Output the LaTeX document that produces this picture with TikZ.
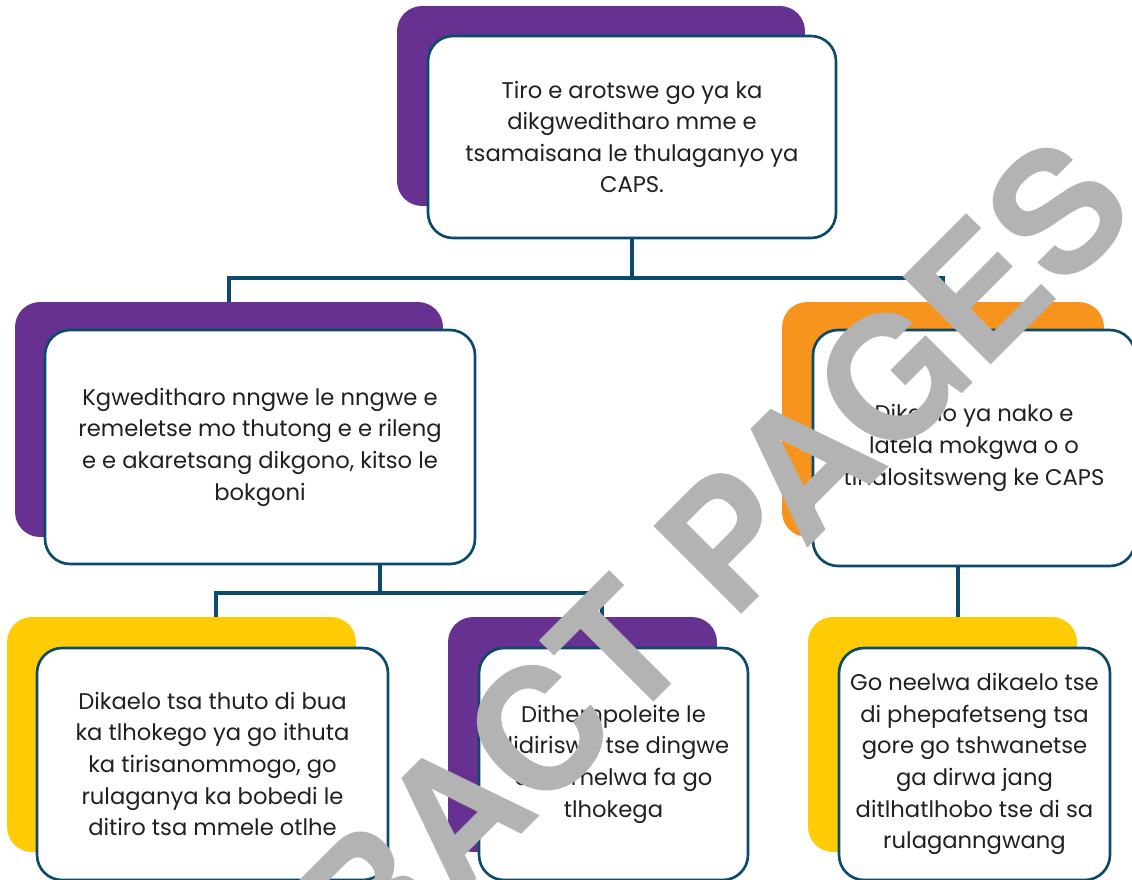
\documentclass[tikz,border=0pt]{standalone}
\usepackage{fontspec}
\setmainfont{Poppins}
\newfontfamily\wmfont{TeX Gyre Heros}
\definecolor{tpurple}{HTML}{663190}
\definecolor{torange}{HTML}{F7941E}
\definecolor{tyellow}{HTML}{FFCB05}
\definecolor{tblue}{HTML}{0B4A6C}
\definecolor{ttext}{HTML}{231F20}
\definecolor{wmgray}{HTML}{B3B3B3}
\begin{document}
\begin{tikzpicture}[x=0.02cm, y=-0.02cm,
                bx/.style={draw=tblue, line width=1.5pt, fill=white, rounded corners=0.5cm, align=center, text=ttext, font=\fontsize{12.9}{18}\selectfont},
                bg/.style={rounded corners=0.5cm},
                ln/.style={draw=tblue, line width=1.9pt},
                wm/.style={text=wmgray, font=\wmfont\bfseries\fontsize{97}{97}\selectfont}
            ]
            \useasboundingbox (0,0) rectangle (1132,879);
            \clip (0,0) rectangle (1132,879);
            % back plates
            \node[bg, fill=tpurple, minimum width=8.16cm, minimum height=4cm]  (tiroBg)   at (601,106)   {};
            \node[bg, fill=tpurple, minimum width=8.56cm, minimum height=4.7cm] (kgweBg)  at (229,419.5) {};
            \node[bg, fill=torange, minimum width=6.44cm, minimum height=4.7cm] (nakoBg)  at (943,419.5) {};
            \node[bg, fill=tyellow, minimum width=6.98cm, minimum height=4.7cm] (thutoBg) at (181.5,734.5) {};
            \node[bg, fill=tpurple, minimum width=5.38cm, minimum height=4.7cm] (thempoBg) at (582.5,734.5) {};
            \node[bg, fill=tyellow, minimum width=5.38cm, minimum height=4.7cm] (neelwaBg) at (942.5,734.5) {};
            % boxes
            \node[bx, minimum width=8.16cm, minimum height=4.04cm] (tiro)   at (632,137)   {Tiro e arotswe go ya ka\\dikgweditharo mme e\\tsamaisana le thulaganyo ya\\CAPS.};
            \node[bx, minimum width=8.6cm,  minimum height=4.68cm] (kgwe)   at (260,447)   {Kgweditharo nngwe le nngwe e\\remeletse mo thutong e e rileng\\e e akaretsang dikgono, kitso le\\bokgoni};
            \node[bx, minimum width=6.44cm, minimum height=4.72cm] (nako)   at (974,448)   {Dikaelo ya nako e\\latela mokgwa o o\\tlhalositsweng ke CAPS};
            \node[bx, minimum width=7.02cm, minimum height=4.64cm] (thuto)  at (212.5,764) {Dikaelo tsa thuto di bua\\ka tlhokego ya go ithuta\\ka tirisanommogo, go\\rulaganya ka bobedi le\\ditiro tsa mmele otlhe};
            \node[bx, minimum width=5.38cm, minimum height=4.64cm] (thempo) at (613.5,764) {Dithempoleite le\\didiriswa tse dingwe\\di tlamelwa fa go\\tlhokega};
            \node[bx, minimum width=5.42cm, minimum height=4.64cm] (neelwa) at (974.5,764) {Go neelwa dikaelo tse\\di phepafetseng tsa\\gore go tshwanetse\\ga dirwa jang\\ditlhatlhobo tse di sa\\rulaganngwang};
            % connectors
            \coordinate (bus1)  at (0,278);
            \coordinate (kdrop) at (380,593);
            \coordinate (bus2l) at (216,593);
            \coordinate (bus2r) at (602,593);
            \coordinate (ndrop) at (958,0);
            \draw[ln] (tiro.south) -- (tiro.south |- bus1);
            \draw[ln] (kgweBg.north) -- (kgweBg.north |- bus1) -- (nakoBg.north |- bus1) -- (nakoBg.north);
            \draw[ln] (kgwe.south -| kdrop) -- (kdrop);
            \draw[ln] (thutoBg.north -| bus2l) -- (bus2l) -- (bus2r) -- (thempoBg.north -| bus2r);
            \draw[ln] (nako.south -| ndrop) -- (neelwaBg.north -| ndrop);
            % watermark
            \node[wm, rotate=45] (wmark) at (594,674) {EXTRACT PAGES};
\end{tikzpicture}
\end{document}
